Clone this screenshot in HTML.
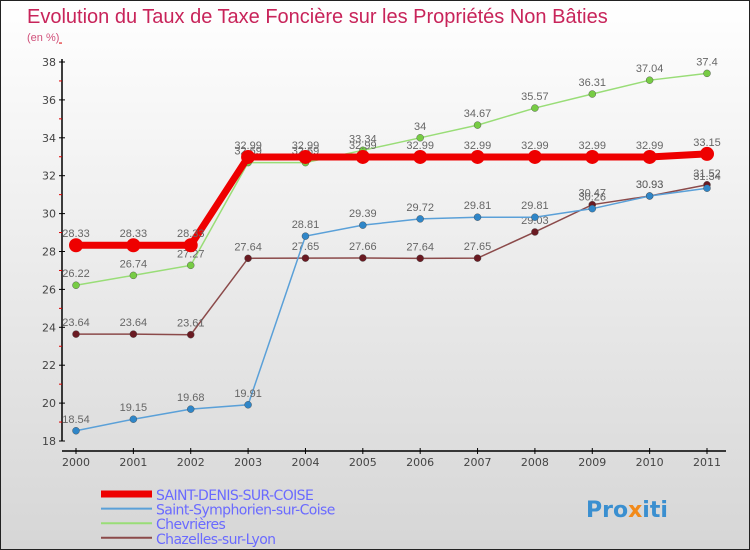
<!DOCTYPE html>
<html><head><meta charset="utf-8"><style>
body{margin:0}
#wrap{width:750px;height:550px;position:relative;overflow:hidden;background:linear-gradient(#ffffff,#d6d6d6);box-sizing:border-box;border:1px solid #222;font-family:"DejaVu Sans","Liberation Sans",sans-serif}
svg text{font-family:"DejaVu Sans","Liberation Sans",sans-serif}
</style></head><body>
<div id="wrap">
<svg id="chart" width="750" height="550">
<text x="26" y="22" font-size="20" fill="#c8245a" style="font-family:'Liberation Sans',sans-serif">Evolution du Taux de Taxe Foncière sur les Propriétés Non Bâties</text>
<text x="26" y="40" font-size="11" fill="#d0507a" style="font-family:'Liberation Sans',sans-serif">(en %)</text>
<g id="axes"></g><g id="series"></g><g id="legend"></g>
<text x="585" y="516" font-size="22" font-weight="bold" fill="#3a8fd0">Pro<tspan fill="#f28a1a">x</tspan>iti</text>
</svg></div>
<script>
const years=[2000,2001,2002,2003,2004,2005,2006,2007,2008,2009,2010,2011];
const yTicks=[18,20,22,24,26,28,30,32,34,36,38];
const seriesNames=["SAINT-DENIS-SUR-COISE","Saint-Symphorien-sur-Coise","Chevrières","Chazelles-sur-Lyon"];
const stDenis=[28.33,28.33,28.33,32.99,32.99,32.99,32.99,32.99,32.99,32.99,32.99,33.15];
const stSymph=[18.54,19.15,19.68,19.91,28.81,29.39,29.72,29.81,29.81,30.26,30.93,31.34];
const chevr=[26.22,26.74,27.27,32.69,32.69,33.34,34,34.67,35.57,36.31,37.04,37.4];
const chaz=[23.64,23.64,23.61,27.64,27.65,27.66,27.64,27.65,29.03,30.47,30.93,31.52];
const NS="http://www.w3.org/2000/svg";
const X=i=>75+i*(706-75)/(years.length-1);
const Y=v=>440-(v-18)*(440-61)/20;
function mk(t,a,p){const e=document.createElementNS(NS,t);for(const k in a)e.setAttribute(k,a[k]);p.appendChild(e);return e;}
const ax=document.getElementById('axes');
let yl=mk('line',{x1:61,y1:58,x2:61,y2:440,stroke:'#000','stroke-width':1.5},ax);


yTicks.forEach(v=>{mk('line',{x1:58,x2:64,y1:Y(v),y2:Y(v),stroke:'#000'},ax);
 mk('line',{x1:58,x2:61,y1:Y(v+1),y2:Y(v+1),stroke:'#d00'},ax);
 const t=mk('text',{x:55,y:Y(v)+4,'text-anchor':'end','font-size':11,fill:'#444'},ax);t.textContent=v;
 
 });
let xl=mk('line',{x1:61,y1:450,x2:725,y2:450,stroke:'#000','stroke-width':1.5},ax);


years.forEach((y,i)=>{mk('line',{x1:X(i),x2:X(i),y1:447,y2:453,stroke:'#000'},ax);
 const t=mk('text',{x:X(i),y:465,'text-anchor':'middle','font-size':11,fill:'#444'},ax);t.textContent=y;
 
 });
const sg=document.getElementById('series');
const cfg=[[stDenis,'#ee0000',7,'#ee0000',7],[stSymph,'#5aa0d8',1.5,'#2f86c8',3.5],[chevr,'#99dd77',1.5,'#77cc44',3.5],[chaz,'#8b4a4a',1.5,'#6a1a22',3.5]];
[3,2,1,0].forEach(k=>{const [d,c,w,mc,r]=cfg[k];
 const g=mk('g',{},sg);
 
 
 mk('polyline',{points:d.map((v,i)=>X(i)+','+Y(v)).join(' '),fill:'none',stroke:c,'stroke-width':w},g);
 d.forEach((v,i)=>{const p=mk('circle',{cx:X(i),cy:Y(v),r:r,fill:mc,stroke:k?'#444':'none','stroke-width':0.4},g);
  
  
  const t=mk('text',{x:X(i),y:Y(v)-8,'text-anchor':'middle','font-size':11,fill:'#666','style':"font-family:'Liberation Sans',sans-serif"},g);t.textContent=v;
  
  });});
const lg=document.getElementById('legend');
seriesNames.forEach((n,k)=>{const y=493+k*14.6;
 const g=mk('g',{},lg);
 
 
 mk('line',{x1:100,x2:151,y1:y,y2:y,stroke:cfg[k][1],'stroke-width':k?2:7},g);
 const t=mk('text',{x:155,y:y+6,'font-size':14,fill:'#6a6aff','letter-spacing':'-0.6'},g);t.textContent=n;});
</script>
</body></html>
